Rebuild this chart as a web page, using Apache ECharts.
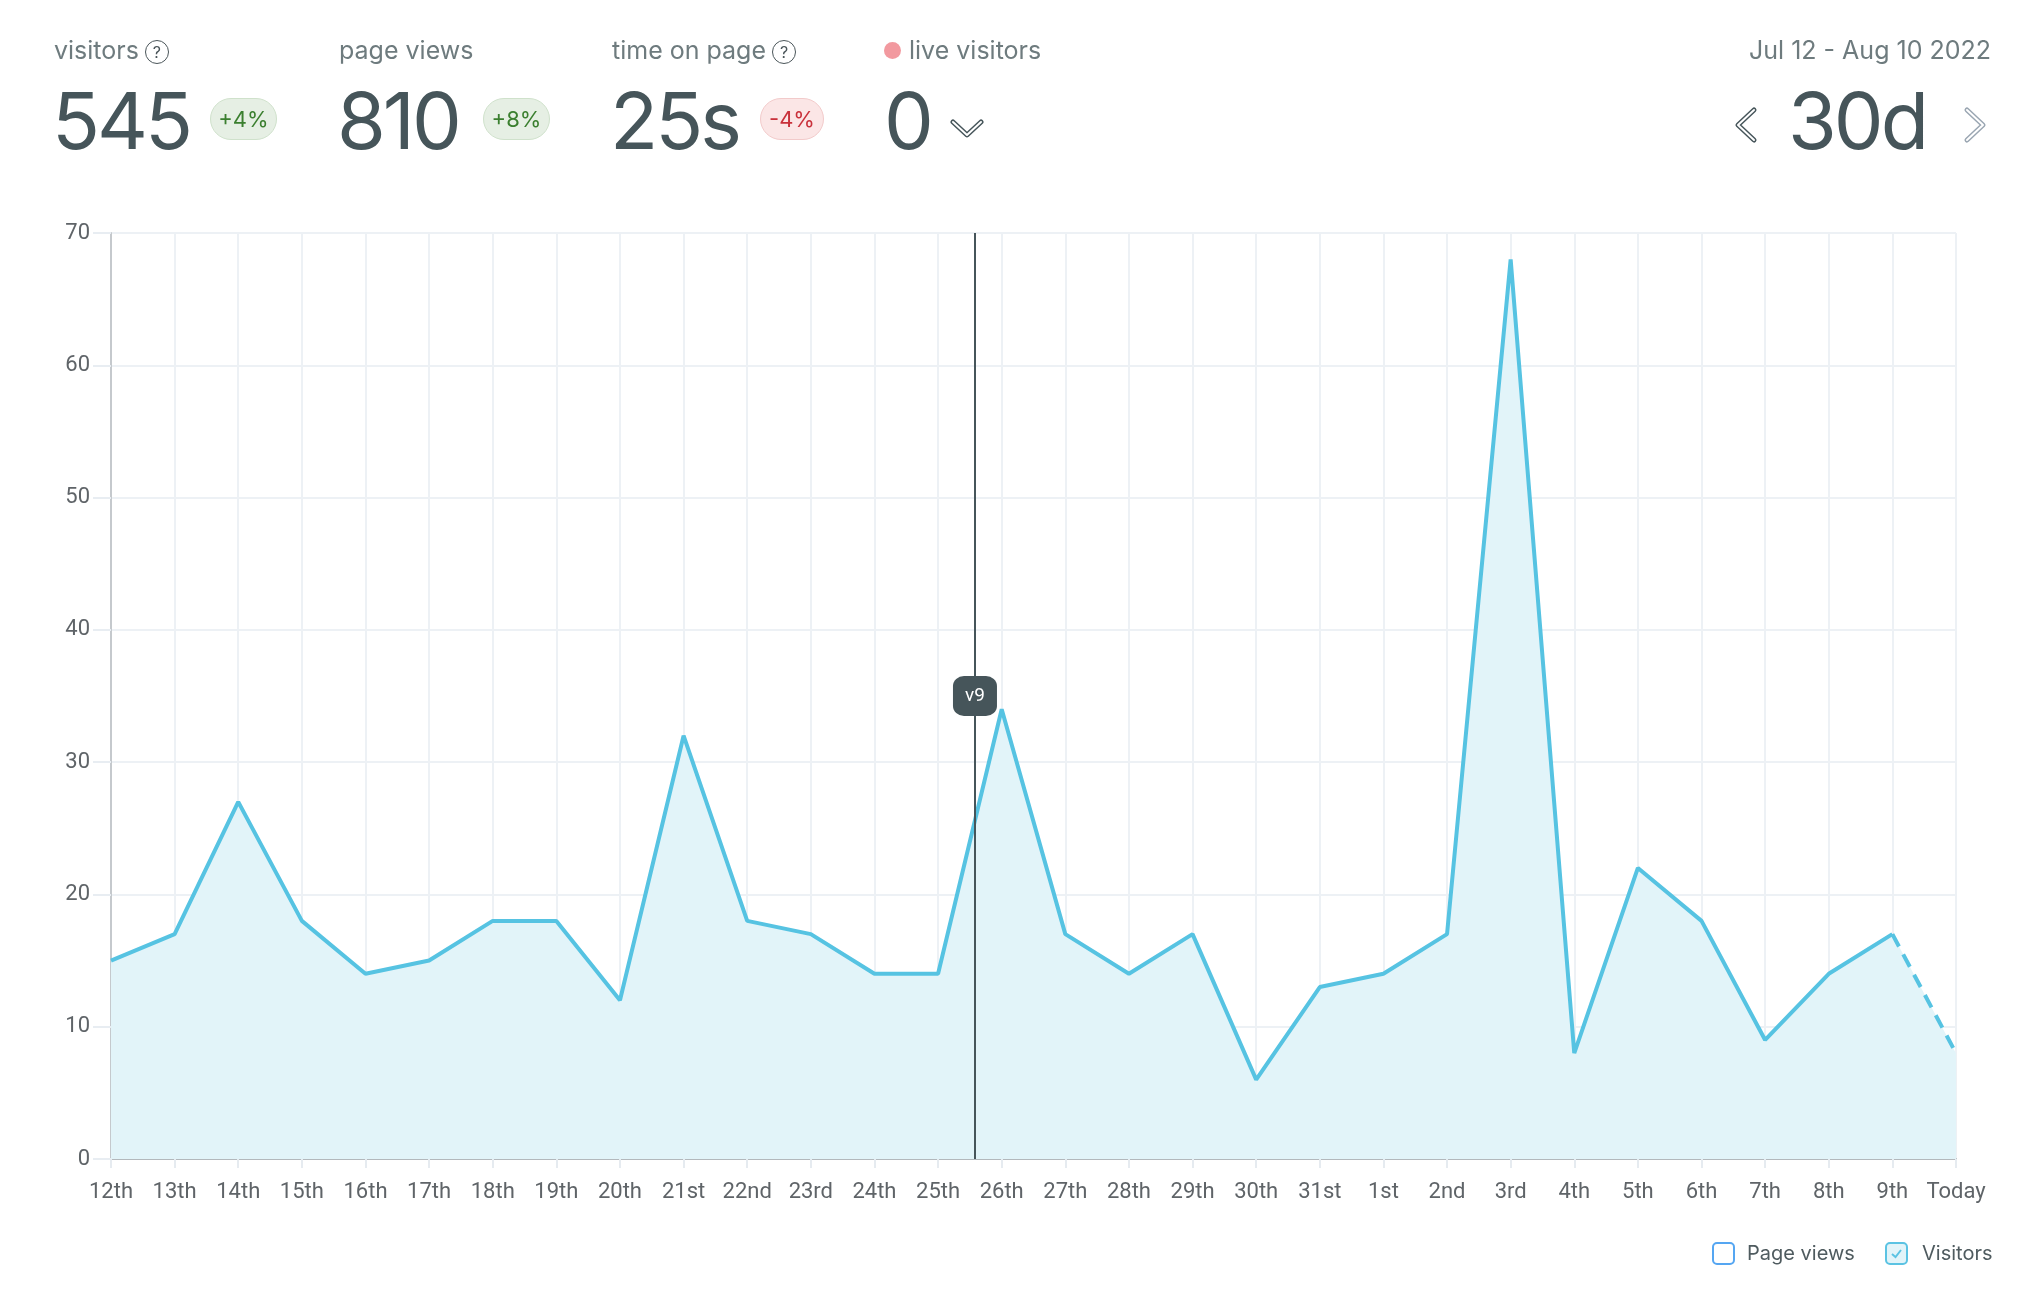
<!DOCTYPE html>
<html>
<head>
<meta charset="utf-8">
<script src="https://cdn.jsdelivr.net/npm/echarts@6/dist/echarts.min.js"></script>
<style>
	html, body { margin: 0; padding: 0; background: #fff; }
	body { width: 2030px; height: 1294px; position: relative; overflow: hidden; font-family: Inter, "Noto Sans", sans-serif; }
	#chart { position: absolute; left: 0; top: 0; width: 2030px; height: 1294px; }
	.lbl { position: absolute; top: 34px; font-size: 25px; color: #6e7b7e; line-height: 32px; white-space: nowrap; }
	.big { position: absolute; top: 72px; font-size: 79px; color: #46555a; line-height: 96px; letter-spacing: -3px; white-space: nowrap; }
	.badge { position: absolute; top: 98px; height: 40px; border-radius: 21px; font-size: 22px; line-height: 40px; text-align: center; box-sizing: content-box; }
	.up { background: #e6efe4; border: 1px solid #cfe1cb; color: #3b7f2f; }
	.down { background: #fbe6e6; border: 1px solid #f2caca; color: #c9313b; }
	.q { display: inline-block; width: 22px; height: 22px; border: 1.5px solid #4a5559; border-radius: 50%; font-size: 16px; line-height: 22px; text-align: center; color: #4a5559; vertical-align: 1px; margin-left: 6px; }
	.dot { position: absolute; left: 884px; top: 42px; width: 17px; height: 17px; border-radius: 50%; background: #f2999f; }
	svg.ic { position: absolute; }
	.leg { position: absolute; top: 1238px; font-size: 20px; color: #4f5b5f; line-height: 30px; white-space: nowrap; }
	.box { position: absolute; top: 1242px; width: 19px; height: 19px; border-radius: 5px; }
</style>
</head>
<body>
<div id="chart"></div>

<div class="lbl" style="left:54px">visitors<span class="q">?</span></div>
<div class="big" style="left:52px">545</div>
<div class="badge up" style="left:210px;width:65px">+4%</div>

<div class="lbl" style="left:339px">page views</div>
<div class="big" style="left:337px">810</div>
<div class="badge up" style="left:483px;width:65px">+8%</div>

<div class="lbl" style="left:612px">time on page<span class="q">?</span></div>
<div class="big" style="left:610px">25s</div>
<div class="badge down" style="left:760px;width:62px">-4%</div>

<div class="dot"></div>
<div class="lbl" style="left:909px">live visitors</div>
<div class="big" style="left:884px">0</div>
<svg class="ic" style="left:950px;top:118px" width="34" height="22" viewBox="0 0 34 22">
	<path d="M3 4 L17 17 L31 4" fill="none" stroke="#46555a" stroke-width="5" stroke-linejoin="round" stroke-linecap="round"/>
	<path d="M3 4 L17 17 L31 4" fill="none" stroke="#fff" stroke-width="2" stroke-linejoin="round" stroke-linecap="round"/>
</svg>

<div class="lbl" style="right:39px">Jul 12 - Aug 10 2022</div>
<svg class="ic" style="left:1732px;top:106px" width="28" height="38" viewBox="0 0 28 38">
	<path d="M22 4 L6 19 L22 34" fill="none" stroke="#46555a" stroke-width="5" stroke-linejoin="round" stroke-linecap="round"/>
	<path d="M22 4 L6 19 L22 34" fill="none" stroke="#fff" stroke-width="2" stroke-linejoin="round" stroke-linecap="round"/>
</svg>
<div class="big" style="left:1788px">30d</div>
<svg class="ic" style="left:1961px;top:106px" width="28" height="38" viewBox="0 0 28 38">
	<path d="M6 4 L22 19 L6 34" fill="none" stroke="#9aa6b2" stroke-width="5" stroke-linejoin="round" stroke-linecap="round"/>
	<path d="M6 4 L22 19 L6 34" fill="none" stroke="#fff" stroke-width="2" stroke-linejoin="round" stroke-linecap="round"/>
</svg>

<div class="box" style="left:1712px;border:2px solid #55a6f2;background:#fff"></div>
<div class="leg" style="left:1747px">Page views</div>
<div class="box" style="left:1885px;border:2px solid #5bc3e3;background:#e2f4f9">
	<svg width="19" height="19" viewBox="0 0 19 19" style="position:absolute;left:0;top:0"><path d="M5 10 L8.5 13 L14 6" fill="none" stroke="#5bc3e3" stroke-width="2"/></svg>
</div>
<div class="leg" style="left:1922px">Visitors</div>

<script>
var days = ['12th', '13th', '14th', '15th', '16th', '17th', '18th', '19th', '20th', '21st',
	'22nd', '23rd', '24th', '25th', '26th', '27th', '28th', '29th', '30th', '31st',
	'1st', '2nd', '3rd', '4th', '5th', '6th', '7th', '8th', '9th', 'Today'];
var visitors = [15, 17, 27, 18, 14, 15, 18, 18, 12, 32,
	18, 17, 14, 14, 34, 17, 14, 17, 6, 13,
	14, 17, 68, 8, 22, 18, 9, 14, 17, 8];
var yTicks = [0, 70, 10];
// release marker, position in day units from the first day
var releaseName = 'v9';
var releaseAt = 13.58;
var releaseLabelY = 35;

var lineColor = '#56c3e2';
var solid = visitors.map(function(v, i) { return i < visitors.length - 1 ? v : null; });
var dashed = visitors.map(function(v, i) { return i >= visitors.length - 2 ? v : null; });

var chart = echarts.init(document.getElementById('chart'));
chart.setOption({
	animation: false,
	grid: { left: 111, right: 74, top: 233, bottom: 135 },
	xAxis: [{
		type: 'category',
		boundaryGap: false,
		data: days,
		axisLine: { lineStyle: { color: '#b3b8bc', width: 2 } },
		axisTick: { show: true, length: 9, lineStyle: { color: '#e6ebf0', width: 2 } },
		axisLabel: { fontFamily: 'Roboto', fontSize: 22, color: '#5f6468', margin: 22, interval: 0 },
		splitLine: { show: true, lineStyle: { color: '#edf1f5', width: 2 } }
	}, {
		type: 'value',
		min: 0,
		max: days.length - 1,
		show: false
	}],
	yAxis: {
		type: 'value',
		min: yTicks[0],
		max: yTicks[1],
		interval: yTicks[2],
		axisLine: { show: true, lineStyle: { color: '#c5c9cd', width: 2 } },
		axisTick: { show: true, length: 18, lineStyle: { color: '#e8edf2', width: 2 } },
		axisLabel: { fontFamily: 'Roboto', fontSize: 22, color: '#5f6468', margin: 21 },
		splitLine: { lineStyle: { color: '#edf1f5', width: 2 } }
	},
	series: [{
		name: 'area',
		type: 'line',
		data: visitors,
		showSymbol: false,
		lineStyle: { width: 0, opacity: 0 },
		areaStyle: { color: '#e2f4f9', opacity: 1 },
		z: 1
	}, {
		name: 'Visitors',
		type: 'line',
		data: solid,
		showSymbol: false,
		lineStyle: { color: lineColor, width: 4 },
		z: 3
	}, {
		name: 'Visitors today',
		type: 'line',
		data: dashed,
		showSymbol: false,
		lineStyle: { color: lineColor, width: 4, type: [14, 9] },
		z: 3
	}, {
		name: 'release',
		type: 'line',
		xAxisIndex: 1,
		data: [],
		z: 4,
		markLine: {
			silent: true,
			symbol: 'none',
			label: { show: false },
			lineStyle: { color: '#46555a', width: 2, type: 'solid' },
			data: [{ xAxis: releaseAt }]
		},
		markPoint: {
			silent: true,
			symbol: 'roundRect',
			symbolSize: [44, 40],
			itemStyle: { color: '#46555a' },
			label: { show: true, formatter: releaseName, color: '#fff', fontSize: 19, fontFamily: 'Roboto' },
			data: [{ coord: [releaseAt, releaseLabelY] }]
		}
	}]
});
</script>
</body>
</html>
